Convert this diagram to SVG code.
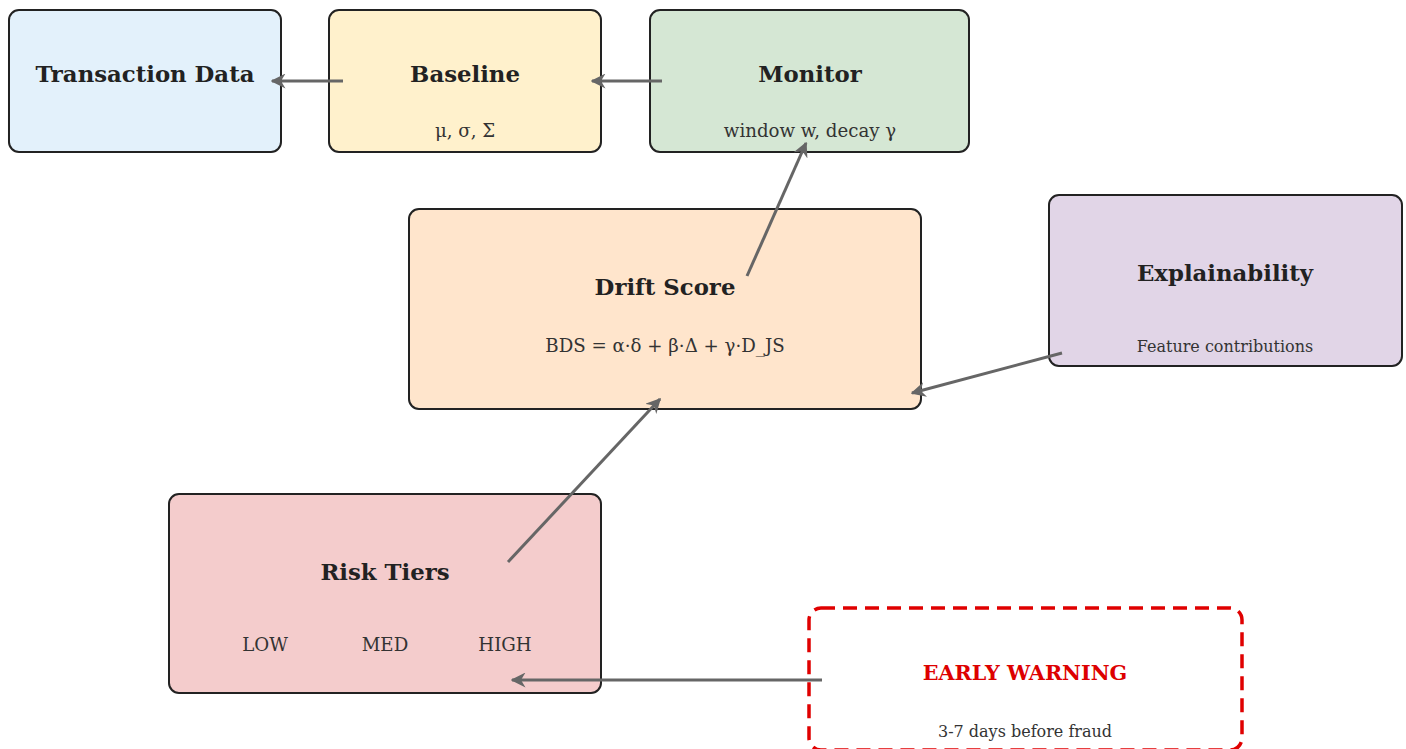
<svg xmlns="http://www.w3.org/2000/svg" width="1406" height="749" viewBox="0 0 1406 749">
  <style>
    .box { stroke: #222; stroke-width: 2; }
    .title { font-family: "DejaVu Serif", serif; font-weight: bold; font-size: 22.8px; fill: #222; text-anchor: middle; }
    .sub { font-family: "DejaVu Serif", serif; font-size: 18.2px; fill: #333; text-anchor: middle; }
    .small { font-size: 16px; }
    .edge { stroke: #666; stroke-width: 3; fill: none; marker-end: url(#arrow); }
  </style>
  <defs>
    <marker id="arrow" viewBox="0 0 10 10" refX="9" refY="5" markerWidth="5" markerHeight="5" orient="auto" markerUnits="strokeWidth">
      <path d="M0,0 L10,5 L0,10 L3,5 Z" fill="#666"/>
    </marker>
  </defs>
  <rect width="1406" height="749" fill="#fff"/>

  <g id="transaction-data">
    <rect class="box" x="9" y="10" width="272" height="142" rx="10" fill="#e3f1fb"/>
    <text class="title" x="145" y="82">Transaction Data</text>
  </g>

  <g id="baseline">
    <rect class="box" x="329" y="10" width="272" height="142" rx="10" fill="#fff1cc"/>
    <text class="title" x="465" y="82">Baseline</text>
    <text class="sub" x="465" y="137">μ, σ, Σ</text>
  </g>

  <g id="monitor">
    <rect class="box" x="650" y="10" width="319" height="142" rx="10" fill="#d5e7d4"/>
    <text class="title" x="810" y="82">Monitor</text>
    <text class="sub" x="810" y="137">window w, decay γ</text>
  </g>

  <g id="drift-score">
    <rect class="box" x="409" y="209" width="512" height="200" rx="10" fill="#ffe5cc"/>
    <text class="title" x="665" y="295">Drift Score</text>
    <text class="sub" x="665" y="352">BDS = α·δ + β·Δ + γ·D_JS</text>
  </g>

  <g id="explainability">
    <rect class="box" x="1049" y="195" width="353" height="171" rx="10" fill="#e1d5e7"/>
    <text class="title" x="1225" y="281">Explainability</text>
    <text class="sub small" x="1225" y="352">Feature contributions</text>
  </g>

  <g id="risk-tiers">
    <rect class="box" x="169" y="494" width="432" height="199" rx="10" fill="#f4cccc"/>
    <text class="title" x="385" y="580">Risk Tiers</text>
    <text class="sub" x="265" y="651">LOW</text>
    <text class="sub" x="385" y="651">MED</text>
    <text class="sub" x="505" y="651">HIGH</text>
  </g>

  <g id="early-warning">
    <rect x="809" y="608" width="433" height="142" rx="12" fill="#fff" stroke="#e00000" stroke-width="3.5" stroke-dasharray="14,8"/>
    <text class="title" x="1025" y="680" style="fill:#dd0000;font-size:20.7px">EARLY WARNING</text>
    <text class="sub small" x="1025" y="737">3-7 days before fraud</text>
  </g>

  <g id="connectors">
    <line class="edge" x1="343" y1="81" x2="272" y2="81"/>
    <line class="edge" x1="662" y1="81" x2="592" y2="81"/>
    <line class="edge" x1="747" y1="276" x2="806" y2="143"/>
    <line class="edge" x1="1062" y1="353" x2="912" y2="393"/>
    <line class="edge" x1="508" y1="562" x2="660" y2="399"/>
    <line class="edge" x1="822" y1="680" x2="512" y2="680"/>
  </g>
</svg>
